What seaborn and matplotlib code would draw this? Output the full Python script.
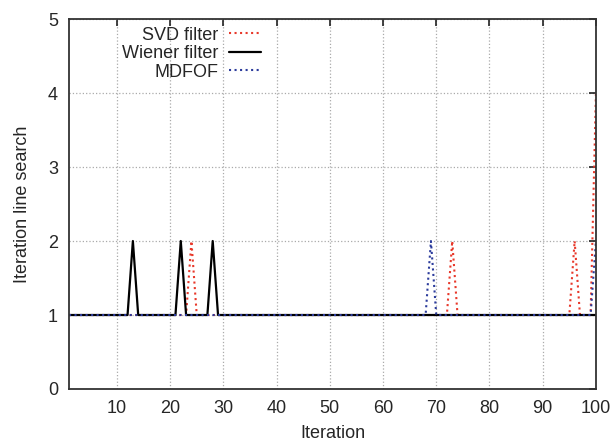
import matplotlib
matplotlib.use("Agg")
import matplotlib.pyplot as plt
import seaborn as sns

# line vertices (iteration, line-search iterations)
svd_x = [1, 23, 24, 25, 72, 73, 74, 95, 96, 97, 99, 100]
svd_y = [1, 1, 2, 1, 1, 2, 1, 1, 2, 1, 1, 4]
wiener_x = [1, 12, 13, 14, 21, 22, 23, 27, 28, 29, 100]
wiener_y = [1, 1, 2, 1, 1, 2, 1, 1, 2, 1, 1]
mdfof_x = [1, 68, 69, 70, 99, 100]
mdfof_y = [1, 1, 2, 1, 1, 2]

xticks = [10, 20, 30, 40, 50, 60, 70, 80, 90, 100]
yticks = [0, 1, 2, 3, 4, 5]

sns.set_style("white")
plt.rcParams['font.family'] = ['Liberation Sans', 'DejaVu Sans']

fig = plt.figure(figsize=(6.15, 4.44), dpi=100)
ax = fig.add_axes([0.1122, 0.1239, 0.969 - 0.1122, 0.957 - 0.1239])

sns.lineplot(x=svd_x, y=svd_y, ax=ax, color='#e8382a', linestyle=':', linewidth=1.5,
             label='SVD filter', sort=False)
sns.lineplot(x=wiener_x, y=wiener_y, ax=ax, color='black', linestyle='-', linewidth=1.6,
             label='Wiener filter', sort=False)
sns.lineplot(x=mdfof_x, y=mdfof_y, ax=ax, color='#2c3c9c', linestyle=':', linewidth=1.5,
             label='MDFOF', sort=False)

ax.set_xlim(1, 100)
ax.set_ylim(0, 5)
ax.set_xticks(xticks)
ax.set_yticks(yticks)
ax.tick_params(direction='in', top=True, right=True, length=5, width=1.2,
               labelsize=13, color='#222222', pad=8)
ax.grid(True, linestyle=':', color='#aaaaaa', linewidth=0.9)
for s in ax.spines.values():
    s.set_color('#333333')
    s.set_linewidth(1.3)

ax.set_xlabel('Iteration', fontsize=13, labelpad=6)
ax.set_ylabel('Iteration line search', fontsize=13, labelpad=12)

ax.legend(loc='upper right', bbox_to_anchor=(274 / 615, 1 - 14 / 444),
          bbox_transform=fig.transFigure, frameon=False, markerfirst=False,
          fontsize=13, handlelength=1.8, handletextpad=0.6, labelspacing=0.08,
          borderpad=0.2)

fig.savefig('out.png', dpi=100)
